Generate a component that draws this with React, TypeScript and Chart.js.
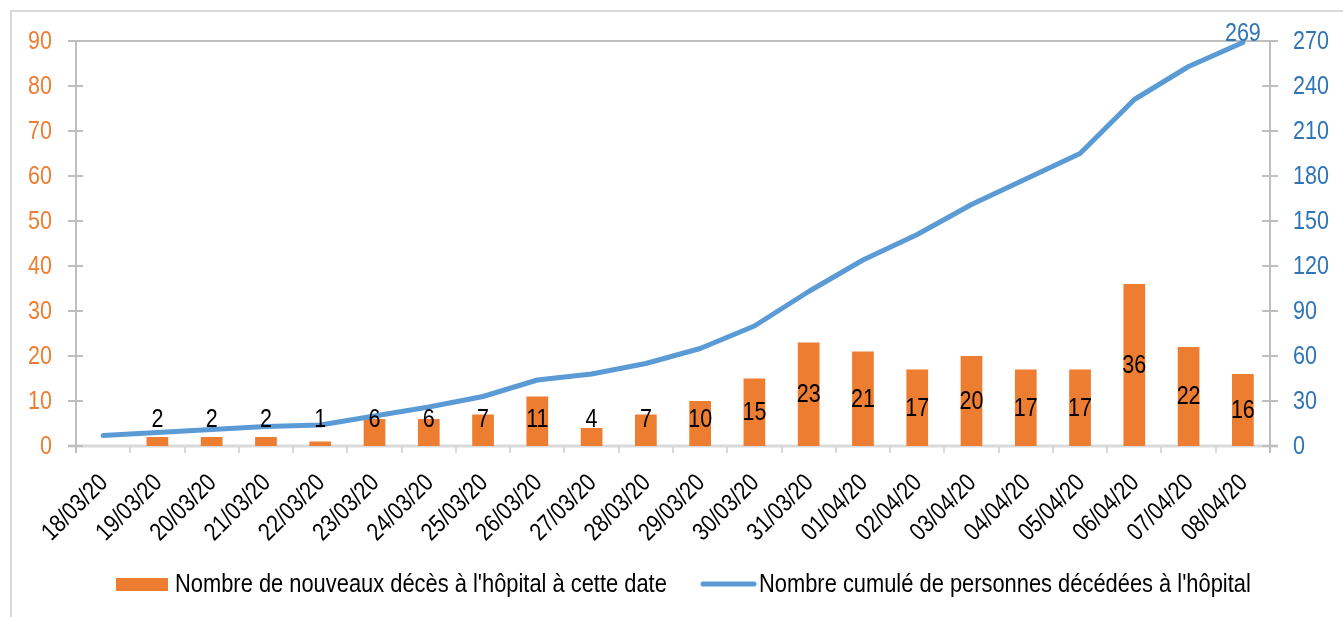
import React, { useEffect, useRef } from 'react';
import { Chart, registerables } from 'chart.js';

Chart.register(...registerables);

const dates = [
  '18/03/20', '19/03/20', '20/03/20', '21/03/20', '22/03/20', '23/03/20', '24/03/20',
  '25/03/20', '26/03/20', '27/03/20', '28/03/20', '29/03/20', '30/03/20', '31/03/20',
  '01/04/20', '02/04/20', '03/04/20', '04/04/20', '05/04/20', '06/04/20', '07/04/20', '08/04/20',
];
const newDeaths: (number | null)[] = [
  null, 2, 2, 2, 1, 6, 6, 7, 11, 4, 7, 10, 15, 23, 21, 17, 20, 17, 17, 36, 22, 16,
];
const cumulativeDeaths = [
  7, 9, 11, 13, 14, 20, 26, 33, 44, 48, 55, 65, 80, 103, 124, 141, 161, 178, 195, 231, 253, 269,
];
const seriesNames = [
  "Nombre de nouveaux décès à l'hôpital à cette date",
  "Nombre cumulé de personnes décédées à l'hôpital",
];
const leftAxis = { min: 0, max: 90, step: 10 };
const rightAxis = { min: 0, max: 270, step: 30 };

const FONT = '"Liberation Sans", Arial, sans-serif';
const SX = 0.86; // horizontal condensing to mimic a narrow font
const ORANGE = '#ED7D31';
const BLUE = '#5B9BD5';
const DARKBLUE = '#2E75B6';
const AXIS = '#BFBFBF';
const AXIS_LIGHT = '#D9D9D9';

function narrowText(ctx: any, text: string, x: number, y: number, align: string, rot = 0, sx = SX) {
  ctx.save();
  ctx.translate(x, y);
  if (rot) ctx.rotate(rot);
  ctx.scale(sx, 1);
  ctx.textAlign = align;
  ctx.textBaseline = 'middle';
  ctx.fillText(text, 0, 0);
  ctx.restore();
}

const decor = {
  id: 'decor',
  beforeDraw(chart: any) {
    const { ctx, width, height } = chart;
    ctx.save();
    ctx.fillStyle = '#ffffff';
    ctx.fillRect(0, 0, width, height);
    ctx.strokeStyle = AXIS_LIGHT;
    ctx.lineWidth = 2;
    ctx.beginPath();
    ctx.moveTo(11, height + 5);
    ctx.lineTo(11, 11);
    ctx.lineTo(width + 5, 11);
    ctx.stroke();
    ctx.restore();
  },
  beforeDatasetsDraw(chart: any) {
    const { ctx, chartArea } = chart;
    const { left, right, top, bottom } = chartArea;
    const xs = chart.scales.x;
    const yl = chart.scales.y;
    const yr = chart.scales.y1;
    ctx.save();
    // x axis line
    ctx.strokeStyle = AXIS_LIGHT;
    ctx.lineWidth = 3;
    ctx.beginPath();
    ctx.moveTo(left - 8, bottom);
    ctx.lineTo(right + 8, bottom);
    ctx.stroke();
    // x ticks at category boundaries
    ctx.lineWidth = 2;
    const n = dates.length;
    const step = (right - left) / n;
    for (let i = 1; i < n; i++) {
      const x = Math.round(left + i * step);
      ctx.beginPath();
      ctx.moveTo(x, bottom);
      ctx.lineTo(x, bottom + 7);
      ctx.stroke();
    }
    // top line
    ctx.strokeStyle = AXIS;
    ctx.lineWidth = 2;
    ctx.beginPath();
    ctx.moveTo(left - 8, top);
    ctx.lineTo(right + 8, top);
    ctx.stroke();
    // vertical axes
    ctx.beginPath();
    ctx.moveTo(left, top);
    ctx.lineTo(left, bottom + 7);
    ctx.moveTo(right, top);
    ctx.lineTo(right, bottom + 7);
    ctx.stroke();
    // y ticks crossing
    yl.ticks.forEach((t: any) => {
      const y = Math.round(yl.getPixelForValue(t.value));
      ctx.beginPath();
      ctx.moveTo(left - 8, y);
      ctx.lineTo(left + 7, y);
      ctx.stroke();
    });
    yr.ticks.forEach((t: any) => {
      const y = Math.round(yr.getPixelForValue(t.value));
      ctx.beginPath();
      ctx.moveTo(right - 8, y);
      ctx.lineTo(right + 8, y);
      ctx.stroke();
    });
    // tick labels
    ctx.font = `25px ${FONT}`;
    ctx.fillStyle = ORANGE;
    yl.ticks.forEach((t: any) => {
      narrowText(ctx, String(t.value), left - 24, yl.getPixelForValue(t.value) + 1, 'right');
    });
    ctx.fillStyle = DARKBLUE;
    yr.ticks.forEach((t: any) => {
      narrowText(ctx, String(t.value), right + 23, yr.getPixelForValue(t.value) + 1, 'left');
    });
    ctx.font = `25px ${FONT}`;
    ctx.fillStyle = '#000000';
    dates.forEach((d, i) => {
      const x = xs.getPixelForValue(i);
      narrowText(ctx, d, x + 1, bottom + 33, 'right', -Math.PI / 4, 0.84);
    });
    ctx.restore();
  },
  afterDatasetsDraw(chart: any) {
    const { ctx } = chart;
    ctx.save();
    ctx.font = `25px ${FONT}`;
    ctx.fillStyle = '#000000';
    const barMeta = chart.getDatasetMeta(1);
    barMeta.data.forEach((el: any, i: number) => {
      const v = newDeaths[i];
      if (v === null || v === undefined) return;
      const y = Math.min((el.y + el.base) / 2, el.base - 27);
      narrowText(ctx, String(v), el.x, y + 1, 'center');
    });
    const lineMeta = chart.getDatasetMeta(0);
    const last = lineMeta.data[lineMeta.data.length - 1];
    ctx.fillStyle = DARKBLUE;
    narrowText(ctx, String(cumulativeDeaths[cumulativeDeaths.length - 1]), last.x, last.y - 8, 'center');
    ctx.restore();
  },
  afterDraw(chart: any) {
    const { ctx } = chart;
    ctx.save();
    ctx.font = `25px ${FONT}`;
    ctx.fillStyle = ORANGE;
    ctx.fillRect(116, 578, 52, 13);
    ctx.fillStyle = '#000000';
    narrowText(ctx, seriesNames[0], 175, 585, 'left', 0, 0.875);
    ctx.strokeStyle = BLUE;
    ctx.lineWidth = 5;
    ctx.lineCap = 'round';
    ctx.beginPath();
    ctx.moveTo(703, 584);
    ctx.lineTo(754, 584);
    ctx.stroke();
    narrowText(ctx, seriesNames[1], 759, 585, 'left', 0, 0.875);
    ctx.restore();
  },
};

export default function App() {
  const ref = useRef<HTMLCanvasElement | null>(null);
  useEffect(() => {
    document.body.style.overflow = 'hidden';
    const canvas = ref.current;
    if (!canvas) return;
    const chart = new Chart(canvas, {
      type: 'bar',
      data: {
        labels: dates,
        datasets: [
          {
            type: 'line',
            label: seriesNames[1],
            data: cumulativeDeaths,
            borderColor: BLUE,
            backgroundColor: BLUE,
            borderWidth: 5,
            pointRadius: 0,
            tension: 0,
            borderJoinStyle: 'round',
            borderCapStyle: 'round',
            yAxisID: 'y1',
            order: 0,
          } as any,
          {
            type: 'bar',
            label: seriesNames[0],
            data: newDeaths,
            backgroundColor: ORANGE,
            barPercentage: 0.4,
            categoryPercentage: 1,
            yAxisID: 'y',
            order: 1,
          } as any,
        ],
      },
      options: {
        responsive: false,
        animation: false,
        devicePixelRatio: 1,
        layout: { padding: { top: 41, bottom: 71, left: 0, right: 0 } },
        plugins: {
          legend: { display: false },
          tooltip: { enabled: false },
        },
        scales: {
          x: {
            offset: true,
            grid: { display: false, drawTicks: false },
            border: { display: false },
            ticks: { display: false, autoSkip: false },
            afterFit: (s: any) => { s.height = 100; },
          },
          y: {
            position: 'left',
            min: leftAxis.min,
            max: leftAxis.max,
            grid: { display: false, drawTicks: false },
            border: { display: false },
            ticks: { stepSize: leftAxis.step, display: false },
            afterFit: (s: any) => { s.width = 76; },
          },
          y1: {
            position: 'right',
            min: rightAxis.min,
            max: rightAxis.max,
            grid: { display: false, drawTicks: false },
            border: { display: false },
            ticks: { stepSize: rightAxis.step, display: false },
            afterFit: (s: any) => { s.width = 73; },
          },
        },
      },
      plugins: [decor],
    });
    return () => chart.destroy();
  }, []);
  return (
    <canvas
      ref={ref}
      width={1343}
      height={617}
      style={{ position: 'fixed', left: 0, top: 0, width: 1343, height: 617, display: 'block' }}
    />
  );
}
